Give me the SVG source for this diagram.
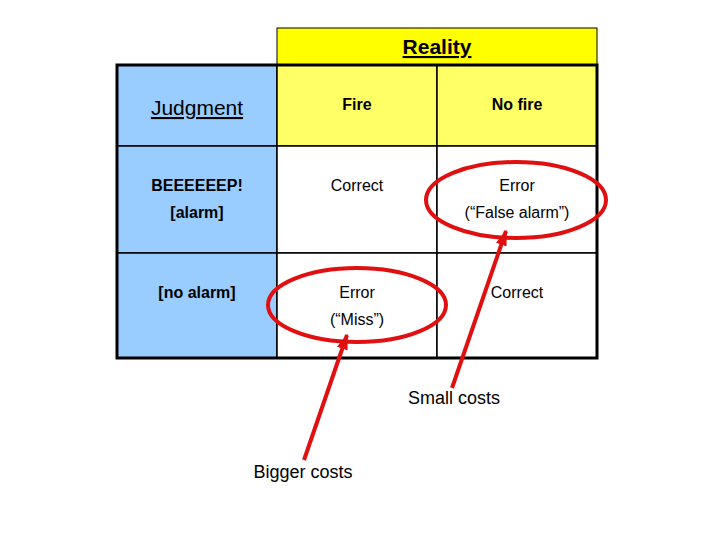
<svg xmlns="http://www.w3.org/2000/svg" width="720" height="540" viewBox="0 0 720 540">
<defs>
<style>
text{font-family:"Liberation Sans",Arial,sans-serif;text-anchor:middle;fill:#000}
.b{font-weight:bold;font-size:16px}
.n{font-size:16px}
.h{font-size:21px;text-decoration:underline}
.cell{stroke:#000;stroke-width:1.5}
.red{stroke:#e01010;stroke-width:4;fill:none}
</style>
<marker id="ah" viewBox="0 0 10 10" refX="9" refY="5" markerWidth="4" markerHeight="4" orient="auto" markerUnits="strokeWidth"><path d="M0,1.5 L10,5 L0,8.5 z" fill="#e01010"/></marker>
</defs>
<rect width="720" height="540" fill="#fff"/>
<g id="reality"><rect x="277" y="28" width="320" height="37" fill="#ffff00" stroke="#000" stroke-width="1"/><text x="437" y="54" class="h" font-weight="bold">Reality</text></g>
<g id="judgment"><rect x="117" y="65" width="160" height="81" fill="#99ccff" class="cell"/><text x="197" y="115" class="h">Judgment</text></g>
<g id="fire"><rect x="277" y="65" width="160" height="81" fill="#ffff66" class="cell"/><text x="357" y="110" class="b">Fire</text></g>
<g id="nofire"><rect x="437" y="65" width="160" height="81" fill="#ffff66" class="cell"/><text x="517" y="110" class="b">No fire</text></g>
<g id="alarm"><rect x="117" y="146" width="160" height="107" fill="#99ccff" class="cell"/><text x="197" y="191" class="b">BEEEEEEP!</text><text x="197" y="218" class="b">[alarm]</text></g>
<g id="c11"><rect x="277" y="146" width="160" height="107" fill="#fff" class="cell"/><text x="357" y="191" class="n">Correct</text></g>
<g id="c12"><rect x="437" y="146" width="160" height="107" fill="#fff" class="cell"/><text x="517" y="191" class="n">Error</text><text x="517" y="218" class="n">(“False alarm”)</text></g>
<g id="noalarm"><rect x="117" y="253" width="160" height="105" fill="#99ccff" class="cell"/><text x="197" y="298" class="b">[no alarm]</text></g>
<g id="c21"><rect x="277" y="253" width="160" height="105" fill="#fff" class="cell"/><text x="357" y="298" class="n">Error</text><text x="357" y="325" class="n">(“Miss”)</text></g>
<g id="c22"><rect x="437" y="253" width="160" height="105" fill="#fff" class="cell"/><text x="517" y="298" class="n">Correct</text></g>
<rect x="117" y="65" width="480" height="293" fill="none" stroke="#000" stroke-width="3"/>
<g id="ellipses"><ellipse cx="516" cy="200" rx="90" ry="38" class="red"/><ellipse cx="357" cy="305" rx="89" ry="37" class="red"/></g>
<g id="connectors"><line x1="452" y1="388" x2="506" y2="231" class="red" marker-end="url(#ah)"/><line x1="304" y1="460" x2="347" y2="335" class="red" marker-end="url(#ah)"/></g>
<g id="small"><text x="454" y="404" font-size="18">Small costs</text></g>
<g id="bigger"><text x="303" y="478" font-size="18">Bigger costs</text></g>
</svg>
